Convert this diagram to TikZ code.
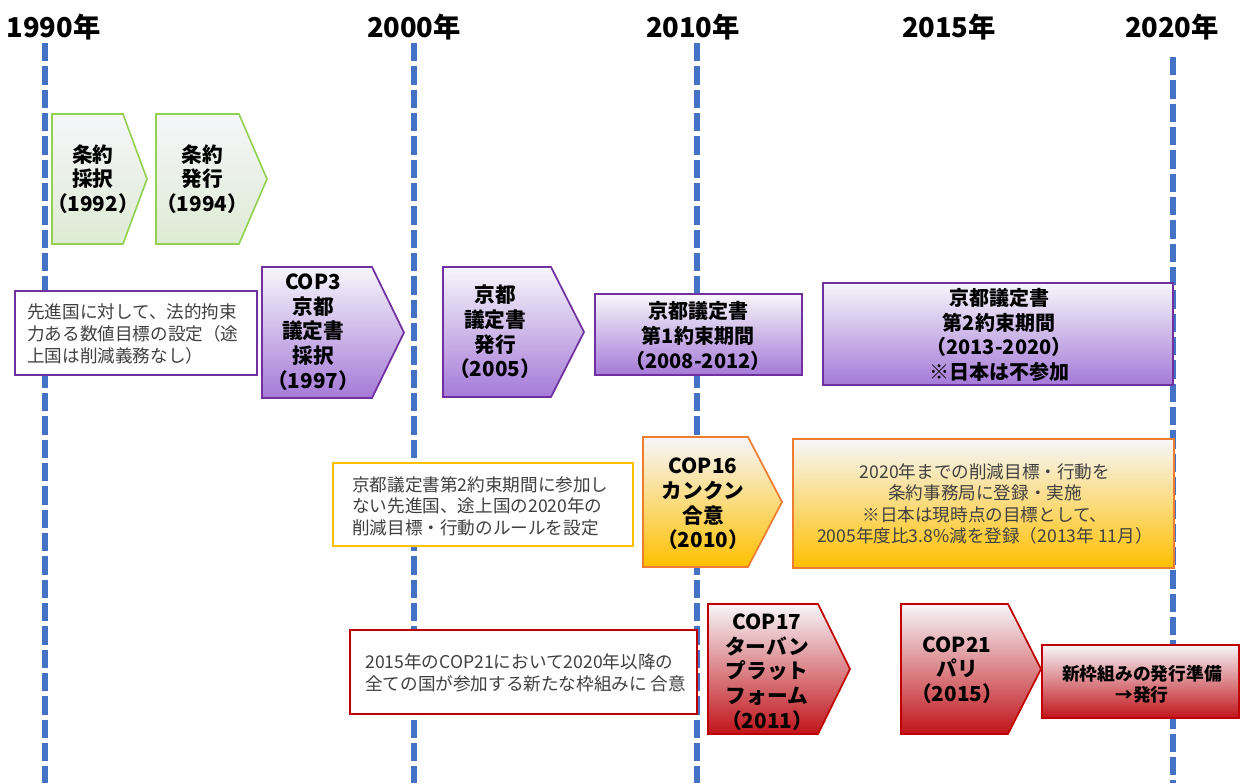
\documentclass[tikz,border=0pt]{standalone}
\usepackage{fontspec}
\setmainfont{Noto Sans CJK JP}
\definecolor{lineblue}{HTML}{4472C4}
\definecolor{topw}{HTML}{F6F6FA}
\definecolor{grn}{HTML}{92D050}
\definecolor{grnfill}{HTML}{DDEBD4}
\definecolor{pur}{HTML}{7030A0}
\definecolor{purfill}{HTML}{A57AD8}
\definecolor{org}{HTML}{ED7D31}
\definecolor{orgfill}{HTML}{FFC000}
\definecolor{redb}{HTML}{C00000}
\definecolor{redfill}{HTML}{C0141A}
\definecolor{txtgray}{HTML}{404040}
\newcommand{\penta}[6]{\path[#1] (#2,#3) -- (#4,#3) -- (#5,{(#3+#6)/2}) -- (#4,#6) -- (#2,#6) -- cycle;}
\tikzset{
  yearline/.style={draw=lineblue, line width=4.3pt, dash pattern=on 13.7pt off 3.8pt},
  yearlbl/.style={font=\bfseries\fontsize{20.5}{24}\selectfont, inner sep=0pt, anchor=base},
  garrow/.style={draw=grn, line width=1.2pt, top color=topw, bottom color=grnfill},
  parrow/.style={draw=pur, line width=1.3pt, top color=topw, bottom color=purfill},
  oarrow/.style={draw=org, line width=1.3pt, top color=topw, bottom color=orgfill},
  rarrow/.style={draw=redb, line width=1.3pt, top color=topw, bottom color=redfill},
  pbox/.style={draw=pur, line width=1.3pt, fill=white},
  obox/.style={draw=orgfill, line width=1.3pt, fill=white},
  rbox/.style={draw=redb, line width=1.3pt, fill=white},
  boldtxt/.style={font=\bfseries\fontsize{15.5}{18.5}\selectfont, align=center, inner sep=0pt, text=black},
  boldsmall/.style={font=\bfseries\fontsize{13.3}{16}\selectfont, align=center, inner sep=0pt, text=black},
  normtxt/.style={font=\fontsize{13.2}{16.2}\selectfont, align=left, inner sep=0pt, text=txtgray},
}
\begin{document}
\begin{tikzpicture}[x=0.75pt,y=-0.75pt]
\useasboundingbox (0,0) rectangle (1243,783);
% timeline
\coordinate (t1990) at (45,43);   \coordinate (e1990) at (45,783);
\coordinate (t2000) at (414,43);  \coordinate (e2000) at (414,783);
\coordinate (t2010) at (697,43);  \coordinate (e2010) at (697,783);
\coordinate (t2020) at (1173,57); \coordinate (e2020) at (1173,783);
\draw[yearline] (t1990) -- (e1990);
\draw[yearline] (t2000) -- (e2000);
\draw[yearline] (t2010) -- (e2010);
\draw[yearline] (t2020) -- (e2020);
\node[yearlbl] (y1990) at (53.5,37) {1990年};
\node[yearlbl] (y2000) at (414,37) {2000年};
\node[yearlbl] (y2010) at (693,37) {2010年};
\node[yearlbl] (y2015) at (949,37) {2015年};
\node[yearlbl] (y2020) at (1172,37) {2020年};
% row 1
\penta{garrow}{52}{114}{123}{147}{244}
\node[boldtxt] (p1992) at (93,179) {条約\\採択\\（1992）};
\penta{garrow}{156}{114}{239}{267}{244}
\node[boldtxt] (p1994) at (202,179) {条約\\発行\\（1994）};
% row 2
\path[pbox] (15,291) rectangle (257,375);
\node[normtxt, anchor=west] (n1997) at (27,334) {先進国に対して、法的拘束\\力ある数値目標の設定（途\\上国は削減義務なし）};
\penta{parrow}{262}{267}{372}{404}{398}
\node[boldtxt] (p1997) at (313,332) {COP3\\京都\\議定書\\採択\\（1997）};
\penta{parrow}{443}{267}{551}{584}{397}
\node[boldtxt] (p2005) at (495,332) {京都\\議定書\\発行\\（2005）};
\path[parrow] (595,294) rectangle (802,375);
\node[boldtxt, font=\bfseries\fontsize{15}{18.5}\selectfont] (k1) at (698,336) {京都議定書\\第1約束期間\\（2008-2012）};
\path[parrow] (823,283) rectangle (1173,385);
\node[boldtxt, font=\bfseries\fontsize{15}{18.5}\selectfont] (k2) at (999,335) {京都議定書\\第2約束期間\\（2013-2020）\\※日本は不参加};
% row 3
\path[obox] (333,463) rectangle (633,546);
\node[normtxt, anchor=west] (n2010) at (352,506) {京都議定書第2約束期間に参加し\\ない先進国、途上国の2020年の\\削減目標・行動のルールを設定};
\penta{oarrow}{643}{437}{748}{782}{567}
\node[boldtxt] (p2010) at (703,504) {COP16\\カンクン\\合意\\（2010）};
\path[oarrow] (793,439) rectangle (1174,568);
\node[normtxt, align=center] (c2020) at (985,504) {2020年までの削減目標・行動を\\条約事務局に登録・実施\\※日本は現時点の目標として、\\2005年度比3.8\%減を登録（2013年 11月）};
% row 4
\path[rbox] (350,630) rectangle (697,714);
\node[normtxt, anchor=west] (n2011) at (365,673) {2015年のCOP21において2020年以降の\\全ての国が参加する新たな枠組みに 合意};
\penta{rarrow}{708}{604}{818}{850}{734}
\node[boldtxt] (p2011) at (767,672) {COP17\\ターバン\\プラット\\フォーム\\（2011）};
\penta{rarrow}{901}{604}{1008}{1041}{734}
\node[boldtxt] (p2015) at (957,670) {COP21\\パリ\\（2015）};
\path[rarrow] (1042,645) rectangle (1239,718);
\node[boldsmall] (nf) at (1142,684) {新枠組みの発行準備\\→発行};
\end{tikzpicture}
\end{document}
